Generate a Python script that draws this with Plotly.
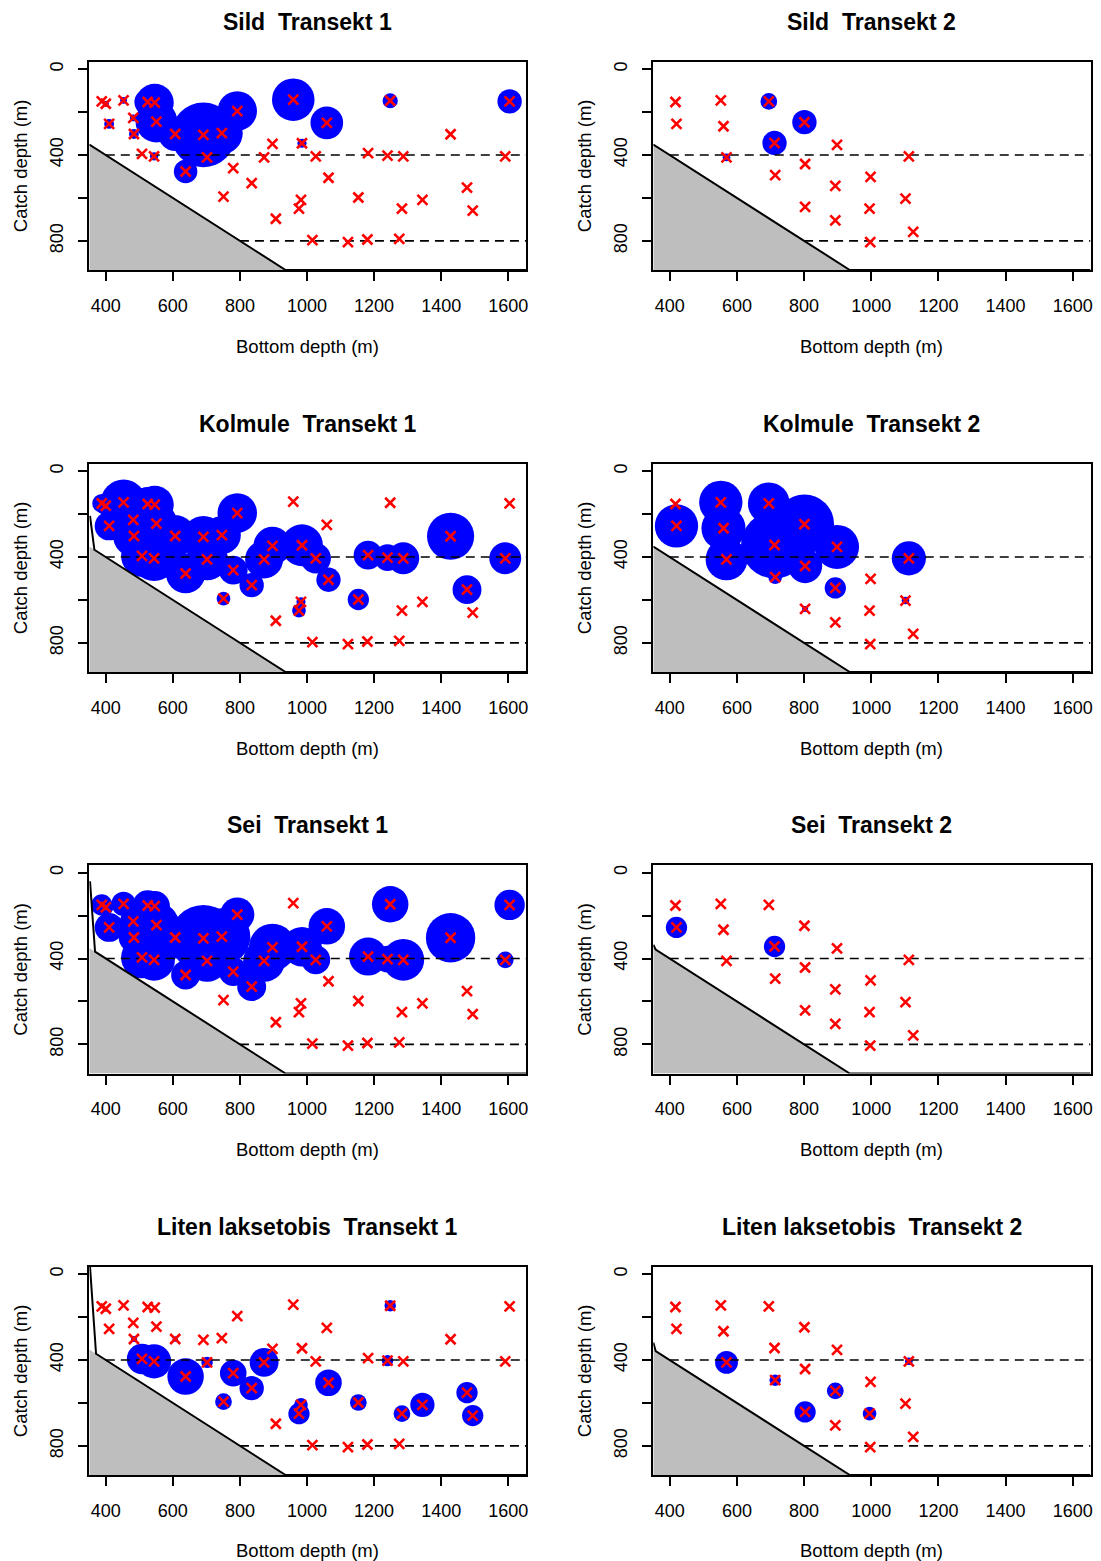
import plotly.graph_objects as go

W, H = 1101, 1561
FONT = "Liberation Sans, Arial, Helvetica, sans-serif"

# ---------------- data ----------------
# Transekt 1 stations: bottom depth (m) and catch depth (m)
t1_bottom = [388, 400, 410, 453, 482, 484, 508, 525, 546, 551,
             544, 607, 638, 691, 702, 746, 751, 780, 792, 835,
             872, 897, 907, 959, 976, 982, 985, 1016, 1026, 1059,
             1064, 1122, 1153, 1180, 1182, 1240, 1248, 1275, 1283, 1287,
             1344, 1428, 1477, 1494, 1591, 1604]
t1_catch_depth = [150, 161, 255, 145, 227, 302, 395, 153, 156, 244,
                  406, 302, 477, 306, 411, 298, 594, 461, 195, 531,
                  411, 348, 697, 142, 650, 609, 345, 797, 406, 250,
                  506, 806, 598, 794, 391, 403, 147, 791, 650, 406,
                  609, 303, 552, 659, 406, 150]

# Transekt 2 stations
t2_bottom = [417, 420, 552, 560, 569, 695, 712, 714, 801, 803,
             803, 898, 893, 893, 998, 995, 997, 1102, 1112, 1125]
t2_catch_depth = [153, 255, 145, 266, 411, 150, 344, 494, 247, 442,
                  642, 353, 544, 705, 502, 650, 806, 603, 406, 758]

# relative catch (bubble scale) per species and transect, one value per station
sild_t1 = [0, 8, 13, 9, 9, 13, 0, 35, 50, 55,
           11, 45, 31, 85, 0, 55, 0, 0, 52, 0,
           0, 0, 0, 56, 0, 0, 12, 0, 0, 43,
           0, 0, 0, 0, 0, 0, 20, 0, 0, 0,
           0, 0, 0, 0, 0, 32]
sild_t2 = [0, 0, 0, 0, 10, 22, 32, 0, 32, 0,
           0, 0, 0, 0, 0, 0, 0, 0, 0, 0]
kolmule_t1 = [25, 25, 38, 60, 50, 55, 55, 45, 50, 55,
              60, 55, 52, 55, 55, 50, 18, 38, 52, 32,
              50, 50, 0, 0, 18, 12, 55, 0, 40, 0,
              32, 0, 28, 0, 38, 35, 0, 0, 0, 42,
              0, 62, 38, 0, 42, 0]
kolmule_t2 = [0, 57, 57, 58, 55, 55, 88, 18, 78, 45,
              8, 58, 28, 0, 0, 0, 0, 10, 45, 0]
sei_t1 = [28, 20, 38, 32, 35, 40, 55, 40, 40, 60,
          55, 55, 38, 88, 55, 75, 0, 38, 45, 38,
          55, 62, 0, 0, 0, 0, 52, 0, 38, 48,
          0, 0, 0, 0, 50, 35, 48, 0, 0, 55,
          0, 65, 0, 0, 22, 40]
sei_t2 = [0, 28, 0, 0, 0, 0, 28, 0, 0, 0,
          0, 0, 0, 0, 0, 0, 0, 0, 0, 0]
liten_t1 = [0, 0, 0, 0, 0, 8, 40, 0, 0, 0,
            45, 7, 48, 0, 15, 0, 22, 35, 6, 32,
            38, 0, 0, 0, 28, 18, 0, 0, 0, 0,
            35, 0, 22, 0, 0, 15, 15, 0, 22, 0,
            32, 0, 28, 28, 0, 0]
liten_t2 = [0, 0, 0, 0, 30, 0, 0, 15, 0, 0,
            28, 0, 22, 0, 0, 18, 0, 0, 10, 0]

species = ["Sild", "Kolmule", "Sei", "Liten laksetobis"]
catches = [[sild_t1, sild_t2], [kolmule_t1, kolmule_t2],
           [sei_t1, sei_t2], [liten_t1, liten_t2]]

# start of the bottom-profile line in each panel (then follows bottom = depth)
profile_start_x = [[351], [351], [353, 366], [351], [353, 368], [351, 358], [353, 371], [351, 358]]
profile_start_y = [[351], [351], [208, 366], [351], [40, 368], [336, 358], [-36, 371], [318, 358]]

x_ticks = [400, 600, 800, 1000, 1200, 1400, 1600]
y_ticks = [0, 200, 400, 600, 800]
y_ticktext = ["0", "", "400", "", "800"]
ref_depths = [400, 800]

X_RANGE = [351, 1653]
Y_RANGE = [936, -36]

# ---------------- layout geometry (pixels) ----------------
cols_px = [(89.5, 527), (654.5, 1092.5)]
rows_px = [(61.5, 270), (463.5, 672), (865, 1073.5), (1266.5, 1475)]

fig = go.Figure()
annotations = []
layout_axes = {}

SIZE_K = 0.76

for r, sp in enumerate(species):
    for c in range(2):
        idx = r * 2 + c + 1
        xa = "x" if idx == 1 else f"x{idx}"
        ya = "y" if idx == 1 else f"y{idx}"
        bx = t1_bottom if c == 0 else t2_bottom
        cy = t1_catch_depth if c == 0 else t2_catch_depth
        cat = catches[r][c]

        # bubbles
        px = [x for x, v in zip(bx, cat) if v > 0]
        py = [y for y, v in zip(cy, cat) if v > 0]
        ps = [v * SIZE_K for v in cat if v > 0]
        fig.add_trace(go.Scatter(x=px, y=py, mode="markers", xaxis=xa, yaxis=ya,
                                 marker=dict(size=ps, color="#0000FF", opacity=1,
                                             line=dict(width=0)),
                                 showlegend=False, hoverinfo="skip"))
        # seabed polygon (below bottom depth = catch depth)
        fig.add_trace(go.Scatter(x=[X_RANGE[0], Y_RANGE[0], X_RANGE[0]],
                                 y=[X_RANGE[0], Y_RANGE[0], Y_RANGE[0]],
                                 fill="toself", fillcolor="#BEBEBE", mode="lines",
                                 line=dict(width=0), xaxis=xa, yaxis=ya,
                                 showlegend=False, hoverinfo="skip"))
        # bottom profile line
        lx = profile_start_x[idx - 1] + [Y_RANGE[0], X_RANGE[1]]
        ly = profile_start_y[idx - 1] + [Y_RANGE[0], Y_RANGE[0]]
        fig.add_trace(go.Scatter(x=lx, y=ly, mode="lines", xaxis=xa, yaxis=ya,
                                 line=dict(color="black", width=2),
                                 showlegend=False, hoverinfo="skip"))
        # dashed reference depths
        for d in ref_depths:
            fig.add_trace(go.Scatter(x=[d, X_RANGE[1]], y=[d, d], mode="lines",
                                     xaxis=xa, yaxis=ya,
                                     line=dict(color="black", width=1.6, dash="9px,6px"),
                                     showlegend=False, hoverinfo="skip"))
        # stations
        fig.add_trace(go.Scatter(x=bx, y=cy, mode="markers", xaxis=xa, yaxis=ya,
                                 marker=dict(symbol="x-thin", size=10, color="red",
                                             line=dict(color="red", width=2.6)),
                                 showlegend=False, hoverinfo="skip"))

        x0, x1 = cols_px[c]
        y0, y1 = rows_px[r]
        xdom = [x0 / W, x1 / W]
        ydom = [1 - y1 / H, 1 - y0 / H]
        kx = "xaxis" if idx == 1 else f"xaxis{idx}"
        ky = "yaxis" if idx == 1 else f"yaxis{idx}"
        layout_axes[kx] = dict(domain=xdom, anchor=ya, range=X_RANGE,
                               tickvals=x_ticks, ticks="outside", ticklen=9,
                               tickwidth=1.5, tickcolor="black",
                               showline=True, mirror=True, linecolor="black", linewidth=2,
                               showgrid=False, zeroline=False,
                               tickfont=dict(family=FONT, size=18, color="black"),
                               ticklabelstandoff=9)
        layout_axes[ky] = dict(domain=ydom, anchor=xa, range=Y_RANGE,
                               tickvals=y_ticks, ticktext=y_ticktext,
                               ticks="outside", ticklen=9, tickwidth=1.5, tickcolor="black",
                               tickangle=-90,
                               showline=True, mirror=True, linecolor="black", linewidth=2,
                               showgrid=False, zeroline=False,
                               tickfont=dict(family=FONT, size=18, color="black"),
                               ticklabelstandoff=8)

        cx = (x0 + x1) / 2
        xt_y = min(y1 + 76, H - 11)
        annotations.append(dict(text=f"<b>{sp}  Transekt {c + 1}</b>", x=cx / W,
                                y=1 - (y0 - 40) / H, xref="paper", yref="paper",
                                xanchor="center", yanchor="middle", showarrow=False,
                                font=dict(family=FONT, size=23, color="black")))
        annotations.append(dict(text="Bottom depth (m)", x=cx / W,
                                y=1 - xt_y / H, xref="paper", yref="paper",
                                xanchor="center", yanchor="middle", showarrow=False,
                                font=dict(family=FONT, size=18.5, color="black")))
        annotations.append(dict(text="Catch depth (m)", x=(x0 - 69) / W,
                                y=1 - ((y0 + y1) / 2) / H, xref="paper", yref="paper",
                                xanchor="center", yanchor="middle", showarrow=False,
                                textangle=-90,
                                font=dict(family=FONT, size=18.5, color="black")))

fig.update_layout(width=W, height=H, margin=dict(l=0, r=0, t=0, b=0),
                  paper_bgcolor="white", plot_bgcolor="white",
                  showlegend=False, annotations=annotations, **layout_axes)

fig.write_html("out.html")
